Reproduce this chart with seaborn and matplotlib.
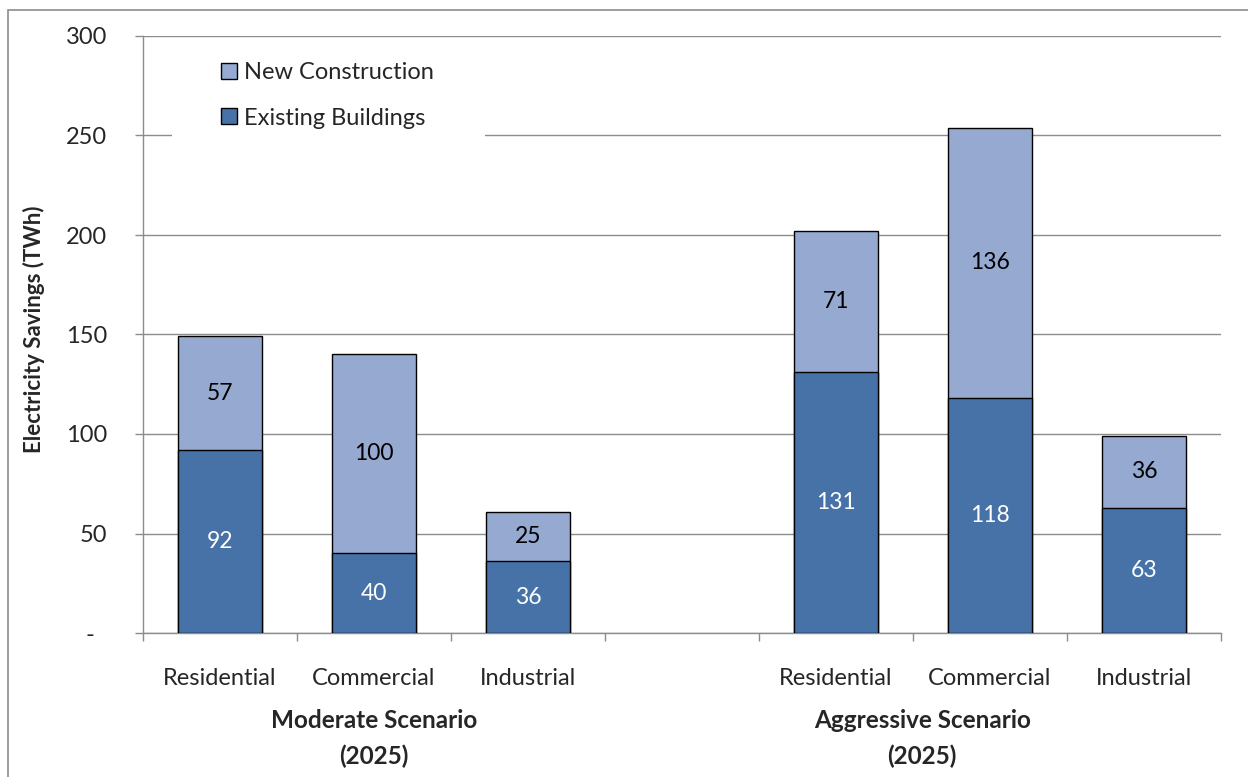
import matplotlib
matplotlib.use("Agg")
import matplotlib.pyplot as plt
from matplotlib.patches import Rectangle, Patch
import numpy as np
import pandas as pd
import seaborn as sns

# Data (TWh)
sectors = ["Residential", "Commercial", "Industrial"]
scenarios = ["Moderate Scenario\n(2025)", "Aggressive Scenario\n(2025)"]
existing_moderate = [92, 40, 36]
new_moderate = [57, 100, 25]
existing_aggressive = [131, 118, 63]
new_aggressive = [71, 136, 36]
y_ticks = [0, 50, 100, 150, 200, 250, 300]
y_tick_labels = ["-  ", "50", "100", "150", "200", "250", "300"]

# Category slots: three moderate bars, an empty gap, three aggressive bars
slots = ["M-Residential", "M-Commercial", "M-Industrial", "gap",
         "A-Residential", "A-Commercial", "A-Industrial"]
slot_labels = sectors + [""] + sectors

df = pd.DataFrame({
    "slot": slots[:3] + slots[4:],
    "existing": existing_moderate + existing_aggressive,
    "new": new_moderate + new_aggressive,
})
df["total"] = df["existing"] + df["new"]

c_existing = "#4672A8"
c_new = "#95A9D1"
grid_c = "#8C8C8C"

sns.set_theme(style="white")
plt.rcParams["font.family"] = ["Lato", "DejaVu Sans"]

W, H = 1248, 777
fig = plt.figure(figsize=(W / 100, H / 100), dpi=100)
x0, x1, y0, y1 = 143, 1221, 36, 633
ax = fig.add_axes([x0 / W, (H - y1) / H, (x1 - x0) / W, (y1 - y0) / H])


def ax_x(px):
    return (px - x0) / (x1 - x0)


def ax_y(py):
    return (y1 - py) / (y1 - y0)


# Outer chart frame
fig.patches.append(Rectangle((8 / W, -0.1), 1.2, (H - 10) / H + 0.1,
                             transform=fig.transFigure, fill=False,
                             edgecolor="#8C8C8C", linewidth=1.2, zorder=0))

# Stacked bars: full height in the lighter colour, existing part on top of it
sns.barplot(data=df, x="slot", y="total", order=slots, color=c_new,
            saturation=1, width=0.55, edgecolor="black", linewidth=1,
            ax=ax, zorder=3)
sns.barplot(data=df, x="slot", y="existing", order=slots, color=c_existing,
            saturation=1, width=0.55, edgecolor="black", linewidth=1,
            ax=ax, zorder=4)

# Segment value labels
for _, r in df.iterrows():
    xi = slots.index(r["slot"])
    ax.text(xi, r["existing"] / 2, f"{r['existing']:g}", ha="center",
            va="center", color="white", fontsize=16.5, zorder=5)
    ax.text(xi, r["existing"] + r["new"] / 2, f"{r['new']:g}", ha="center",
            va="center", color="black", fontsize=16.5, zorder=5)

ax.set_xlim(-0.5, 6.5)
ax.set_ylim(0, 300)
ax.set_yticks(y_ticks)
ax.set_yticklabels(y_tick_labels, fontsize=17)
ax.set_xticks(range(len(slots)))
ax.set_xticklabels(slot_labels, fontsize=17)
ax.set_xticks(np.arange(-0.5, 7, 1), minor=True)
ax.tick_params(axis="x", which="major", length=0, pad=25)
ax.tick_params(axis="x", which="minor", length=6, width=1, color=grid_c,
               direction="out", bottom=True)
ax.tick_params(axis="y", which="major", length=6, width=1, color=grid_c,
               direction="out", left=True, pad=20)
ax.yaxis.grid(True, color=grid_c, linewidth=1)
ax.set_axisbelow(True)
for s in ["top", "right"]:
    ax.spines[s].set_visible(False)
for s in ["left", "bottom"]:
    ax.spines[s].set_color(grid_c)
    ax.spines[s].set_linewidth(1)
ax.set_xlabel("")
ax.set_ylabel("Electricity Savings (TWh)", fontsize=16, fontweight="bold")
ax.yaxis.set_label_coords(ax_x(45), ax_y(329))

# Scenario group labels under the sector names
for xc, lab in zip([1.0, 4.56], scenarios):
    ax.text(xc, -0.128, lab, transform=ax.get_xaxis_transform(),
            ha="center", va="top", fontsize=17.5, fontweight="bold",
            linespacing=1.6)

# White legend area masking the gridline behind it
ax.add_patch(Rectangle((ax_x(172), ax_y(148)), ax_x(485) - ax_x(172),
                       ax_y(48) - ax_y(148), transform=ax.transAxes,
                       facecolor="white", edgecolor="none", zorder=1))

handles = [Patch(facecolor=c_new, edgecolor="black", linewidth=1),
           Patch(facecolor=c_existing, edgecolor="black", linewidth=1)]
leg = ax.legend(handles, ["New Construction", "Existing Buildings"],
                loc="center left", bbox_to_anchor=(ax_x(221), ax_y(95.5)),
                frameon=False, fontsize=17, handlelength=0.68,
                handleheight=0.68, handletextpad=0.3, labelspacing=1.02,
                borderpad=0, borderaxespad=0)
leg.set_zorder(6)

fig.savefig("out.png", dpi=100)
